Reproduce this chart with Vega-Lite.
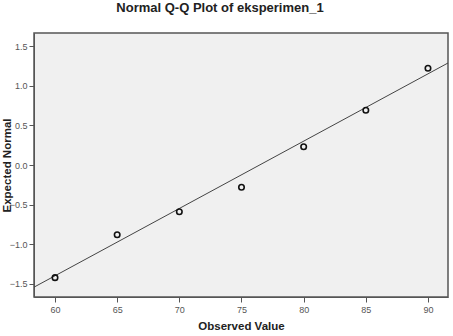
{
  "$schema": "https://vega.github.io/schema/vega-lite/v6.json",
  "width": 414,
  "height": 264,
  "autosize": {"type": "none"},
  "padding": {"left": 34, "top": 33, "right": 5, "bottom": 39},
  "background": "white",
  "title": {
    "text": "Normal Q-Q Plot of eksperimen_1",
    "font": "Liberation Sans",
    "fontSize": 13,
    "fontWeight": "bold",
    "color": "#222222",
    "anchor": "middle",
    "dx": -21,
    "offset": 18
  },
  "config": {
    "view": {"fill": "#f0f0f0", "stroke": "#555555", "strokeWidth": 1.5},
    "axis": {
      "grid": false,
      "labelFont": "Liberation Sans",
      "labelFontSize": 9,
      "labelColor": "#555555",
      "titleFont": "Liberation Sans",
      "titleFontSize": 11.5,
      "titleFontWeight": "bold",
      "titleColor": "#222222",
      "domainColor": "#555555",
      "tickColor": "#555555",
      "tickSize": 5
    }
  },
  "layer": [
    {
      "data": {"values": [
        {"observed": 58.31, "expected": -1.54},
        {"observed": 91.61, "expected": 1.286}
      ]},
      "mark": {"type": "line", "color": "#444444", "strokeWidth": 1, "clip": true},
      "encoding": {
        "x": {"field": "observed", "type": "quantitative"},
        "y": {"field": "expected", "type": "quantitative"}
      }
    },
    {
      "data": {"values": [
        {"observed": 60, "expected": -1.42},
        {"observed": 65, "expected": -0.88},
        {"observed": 70, "expected": -0.59},
        {"observed": 75, "expected": -0.28},
        {"observed": 80, "expected": 0.23},
        {"observed": 85, "expected": 0.69},
        {"observed": 90, "expected": 1.22}
      ]},
      "mark": {"type": "point", "shape": "circle", "filled": false, "color": "#111111", "size": 30, "strokeWidth": 1.6, "opacity": 1},
      "encoding": {
        "x": {
          "field": "observed", "type": "quantitative",
          "scale": {"domain": [58.31, 91.61], "nice": false, "zero": false},
          "axis": {"values": [60, 65, 70, 75, 80, 85, 90], "title": "Observed Value", "labelPadding": 3, "titlePadding": 6}
        },
        "y": {
          "field": "expected", "type": "quantitative",
          "scale": {"domain": [-1.664, 1.664], "nice": false, "zero": false},
          "axis": {"values": [-1.5, -1.0, -0.5, 0.0, 0.5, 1.0, 1.5], "format": ".1f", "title": "Expected Normal", "labelPadding": 2, "titleAngle": -90, "titleX": -27, "titleY": 132, "titleBaseline": "middle", "titleAlign": "center"}
        }
      }
    }
  ]
}
